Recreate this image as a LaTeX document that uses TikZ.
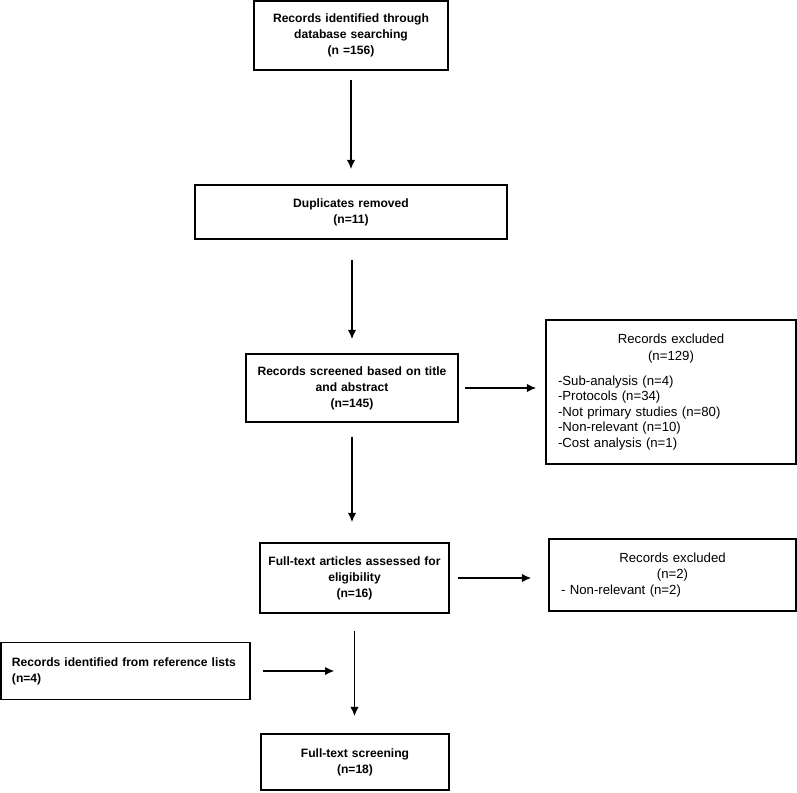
\documentclass[tikz,border=0pt]{standalone}
\usepackage{fontspec}
\setmainfont{Liberation Sans}
\usetikzlibrary{shapes,arrows.meta}

\newcommand{\mainfont}{\fontsize{12.1}{16}\selectfont\bfseries}
\newcommand{\sidefont}{\fontsize{13.2}{15.5}\selectfont}

\begin{document}
\begin{tikzpicture}[x=1pt,y=1pt,>={Latex[length=9.5pt,width=8.5pt]},line width=1.3pt,
    box/.style={draw, align=center, inner xsep=6pt, inner ysep=0pt, font=\mainfont},
    exbox/.style={draw, align=left, inner xsep=12pt, inner ysep=0pt, font=\sidefont},
    arr/.style={->, line width=1.8pt}]
    \useasboundingbox (0,0) rectangle (797,-792);

    \node[box, text width=182pt, minimum height=69pt] (ident) at (351,-35.5) {Records identified through\\database searching\\(n =156)};
    \node[box, text width=300pt, minimum height=54pt] (dupl) at (351,-212) {Duplicates removed\\(n=11)};
    \node[box, text width=200pt, minimum height=68pt] (screen) at (352,-388) {Records screened based on title\\and abstract\\(n=145)};
    \node[exbox, text width=226pt, minimum height=144pt] (excl1) at (671,-392) {{\centering Records excluded\\[1.5pt](n=129)\par}\vspace{9pt}-Sub-analysis (n=4)\\-Protocols (n=34)\\-Not primary studies (n=80)\\-Non-relevant (n=10)\\-Cost analysis (n=1)};
    \node[box, text width=177pt, minimum height=70pt] (full) at (354.5,-578) {Full-text articles assessed for\\eligibility\\(n=16)};
    \node[exbox, text width=223pt, minimum height=72pt] (excl2) at (672.5,-575) {{\centering Records excluded\\[1pt](n=2)\par}- Non-relevant (n=2)};
    \node[box, align=left, inner xsep=11pt, text width=227pt, minimum height=57pt] (refs) at (125.5,-671) {Records identified from reference lists\\(n=4)};
    \node[box, text width=176pt, minimum height=56pt] (final) at (355,-762) {Full-text screening\\(n=18)};

    \draw[arr, shorten <=9pt, shorten >=15pt] (ident.south) -- (ident.south |- dupl.north);
    \draw[arr, shorten <=20pt, shorten >=14pt] (screen.north |- dupl.south) -- (screen.north);
    \draw[arr, shorten <=14pt, shorten >=20pt] (screen.south) -- (screen.south |- full.north);
    \draw[arr, shorten <=17pt, shorten >=17pt] (full.south) -- (full.south |- final.north);
    \draw[arr, shorten <=6pt, shorten >=9pt] (screen.east) -- (screen.east -| excl1.west);
    \draw[arr, shorten <=8pt, shorten >=17pt] (full.east) -- (full.east -| excl2.west);
    \draw[arr, shorten <=12pt, shorten >=20pt] (refs.east) -- (refs.east -| full.south);
\end{tikzpicture}
\end{document}
